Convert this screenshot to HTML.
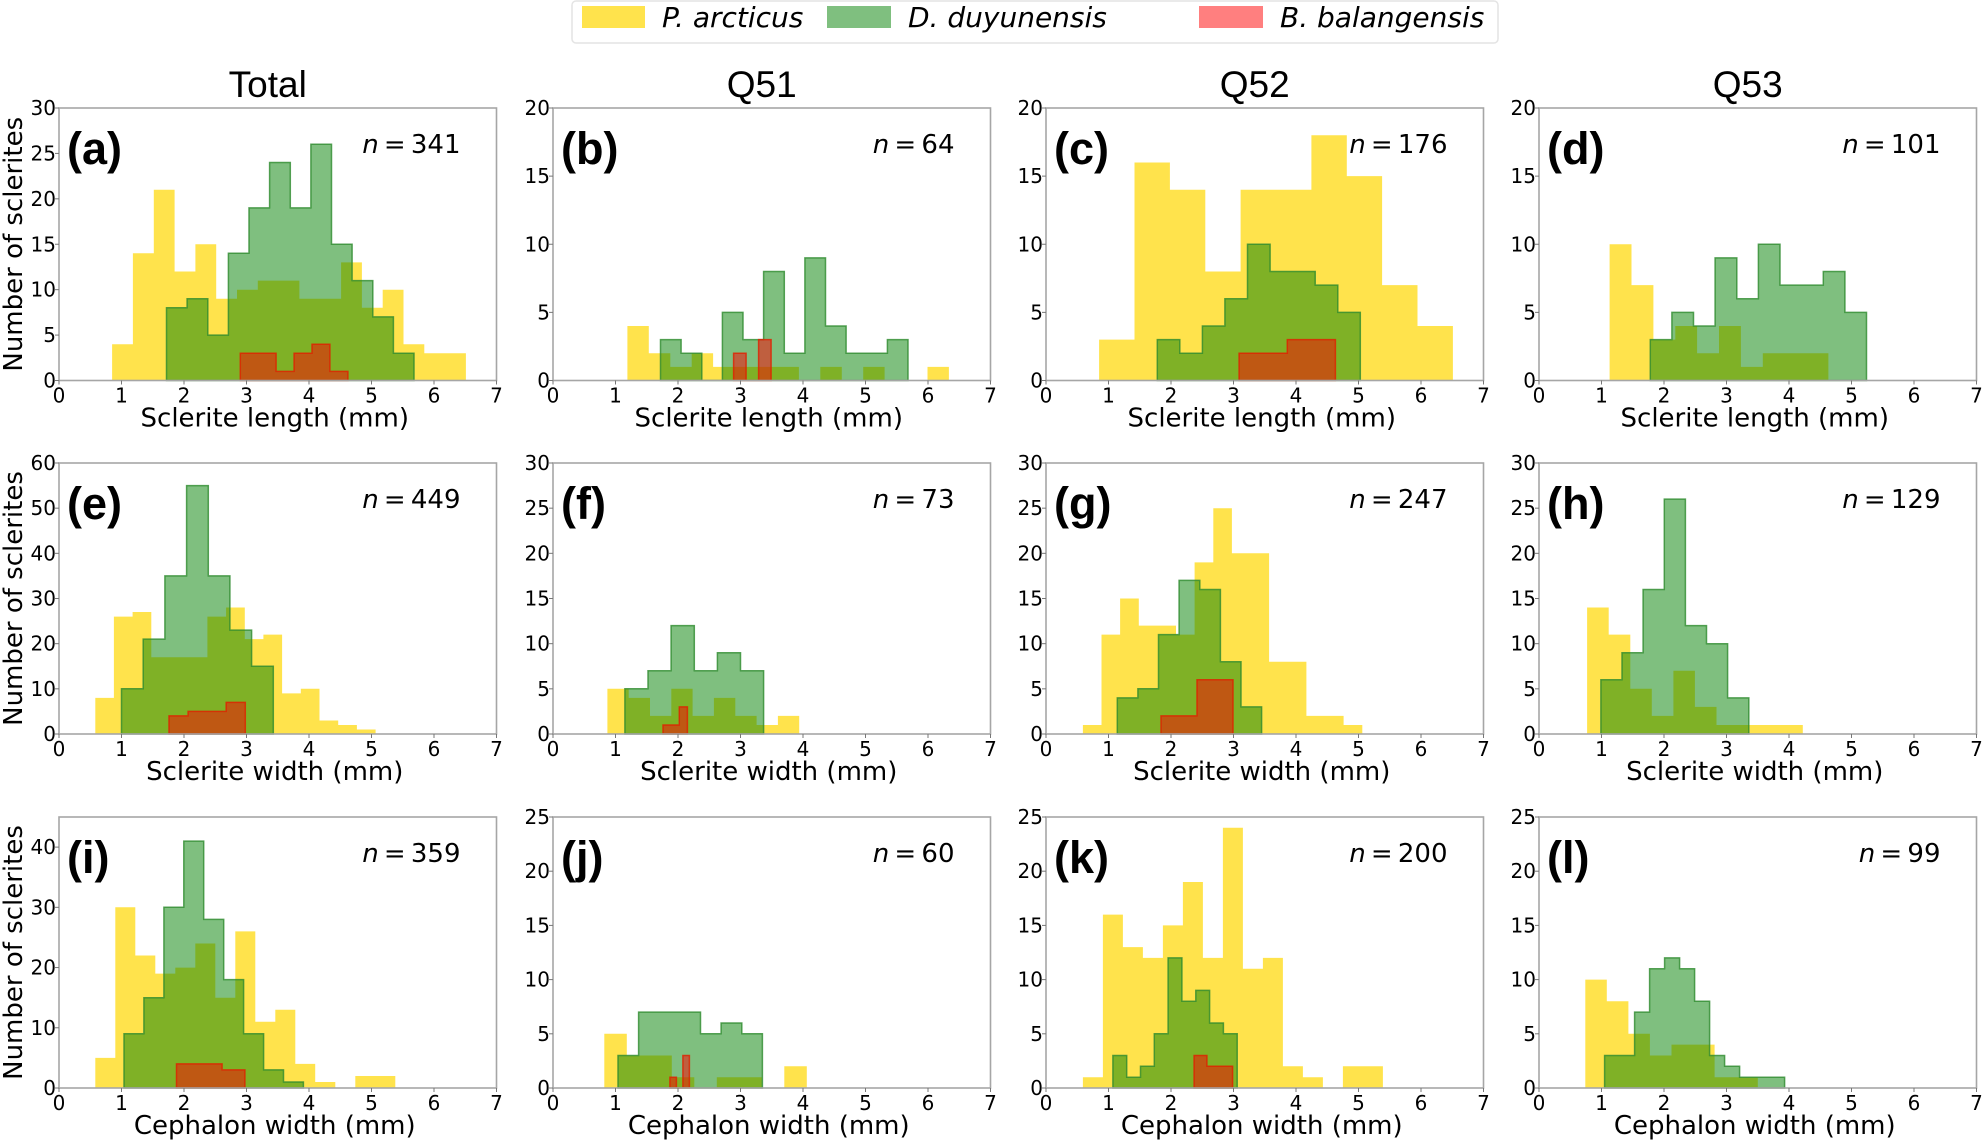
<!DOCTYPE html>
<html><head><meta charset="utf-8"><style>
html,body{margin:0;padding:0;background:#fff;}
svg{display:block;}
text{font-family:"DejaVu Sans","Liberation Sans",sans-serif;}
.t{font-family:"Liberation Sans Narrow","Liberation Sans",sans-serif;}
</style></head><body>
<svg id="s" width="1984" height="1145" viewBox="0 0 1984 1145" xmlns="http://www.w3.org/2000/svg">
<rect x="572" y="1" width="926" height="42" rx="4" fill="#fff" stroke="#e4e4e4" stroke-width="1.5"/>
<rect x="582" y="6" width="63" height="22" fill="#ffd700" fill-opacity="0.7"/>
<text x="662" y="27" font-size="28" font-style="italic">P. arcticus</text>
<rect x="827" y="6" width="64" height="22" fill="#008000" fill-opacity="0.5"/>
<text x="908" y="27" font-size="28" font-style="italic">D. duyunensis</text>
<rect x="1199" y="6" width="64" height="22" fill="#ff0000" fill-opacity="0.5"/>
<text x="1280" y="27" font-size="28" font-style="italic">B. balangensis</text>
<g id="g"></g>
</svg>
<script>
var NS="http://www.w3.org/2000/svg",G=document.getElementById("g");
function el(t,a,txt){var e=document.createElementNS(NS,t);for(var k in a)e.setAttribute(k,a[k]);if(txt!=null)e.textContent=txt;G.appendChild(e);return e;}
var L=[59,553,1046,1539],W=437.5,T=[108,463,817],H=[272.5,271,271];
var titles=["Total","Q51","Q52","Q53"];
var xl=["Sclerite length (mm)","Sclerite width (mm)","Cephalon width (mm)"];
var P=[
 {l:"(a)",n:"341",ym:30,ys:5,s:[[0.85,0.333,[4,14,21,12,15,9,10,11,11,9,9,13,8,10,4,3,3]],[1.72,0.33,[8,9,5,14,19,24,19,26,15,11,7,3]],[2.9,0.287,[3,3,1,3,4,1]]]},
 {l:"(b)",n:"64",ym:20,ys:5,s:[[1.19,0.343,[4,2,1,2,1,1,1,1,0,1,0,1,0,0,1]],[1.72,0.33,[3,2,0,5,3,8,2,9,4,2,2,3]],[2.89,0.2,[2,0,3]]]},
 {l:"(c)",n:"176",ym:20,ys:5,s:[[0.85,0.566,[3,16,14,8,14,14,18,15,7,4]],[1.78,0.361,[3,2,4,6,10,8,8,7,5]],[3.09,0.385,[2,2,3,3]]]},
 {l:"(d)",n:"101",ym:20,ys:5,s:[[1.13,0.35,[10,7,3,4,2,4,1,2,2,2]],[1.78,0.346,[3,5,4,9,6,10,7,7,8,5]],null]},
 {l:"(e)",n:"449",ym:60,ys:10,s:[[0.58,0.299,[8,26,27,17,17,17,26,28,21,22,9,10,3,2,1]],[1.0,0.347,[10,21,35,55,35,23,15]],[1.76,0.305,[4,5,5,7]]]},
 {l:"(f)",n:"73",ym:30,ys:5,s:[[0.87,0.341,[5,4,2,5,2,4,2,1,2]],[1.15,0.37,[5,7,12,7,9,7]],[1.76,0.13,[1,1,3]]]},
 {l:"(g)",n:"247",ym:30,ys:5,s:[[0.59,0.298,[1,11,15,12,12,11,19,25,20,20,8,8,2,2,1]],[1.14,0.33,[4,5,11,17,16,8,3]],[1.84,0.288,[2,2,6,6]]]},
 {l:"(h)",n:"129",ym:30,ys:5,s:[[0.77,0.345,[14,11,5,2,7,3,1,1,1,1]],[0.99,0.338,[6,9,16,26,12,10,4]],null]},
 {l:"(i)",n:"359",ym:45,ys:10,s:[[0.58,0.32,[5,30,22,19,20,24,15,26,11,13,4,1,0,2,2]],[1.04,0.319,[9,15,30,41,28,18,9,3,1]],[1.88,0.365,[4,4,3]]]},
 {l:"(j)",n:"60",ym:25,ys:5,s:[[0.82,0.36,[5,3,3,1,0,1,1,0,2]],[1.04,0.33,[3,7,7,7,5,6,5]],[1.87,0.104,[1,0,3]]]},
 {l:"(k)",n:"200",ym:25,ys:5,s:[[0.59,0.32,[1,16,13,12,15,19,12,24,11,12,2,1,0,2,2]],[1.07,0.221,[3,1,2,5,12,8,9,6,5]],[2.37,0.205,[3,2,2]]]},
 {l:"(l)",n:"99",ym:25,ys:5,s:[[0.74,0.345,[10,8,5,3,4,4,1,1]],[1.05,0.24,[3,3,7,11,12,11,8,3,2,1,1,1]],null]}
];
var sty=[{f:"#ffd700",o:0.7,st:"none"},{f:"#008000",o:0.5,st:"#2e8b2e"},{f:"#ff0000",o:0.5,st:"#e02000"}];
for(var r=0;r<3;r++)for(var c=0;c<4;c++){
 var p=P[r*4+c],x0=L[c],y0=T[r],h=H[r],yb=y0+h;
 var X=function(v){return x0+v*W/7;},Y=function(v){return yb-v*h/p.ym;};
 for(var k=0;k<3;k++){var s=p.s[k];if(!s)continue;
  var d="M"+X(s[0]).toFixed(1)+" "+yb;
  for(var i=0;i<s[2].length;i++){d+=" L"+X(s[0]+i*s[1]).toFixed(1)+" "+Y(s[2][i]).toFixed(1)+" L"+X(s[0]+(i+1)*s[1]).toFixed(1)+" "+Y(s[2][i]).toFixed(1);}
  d+=" L"+X(s[0]+s[2].length*s[1]).toFixed(1)+" "+yb+" Z";
  el("path",{d:d,fill:sty[k].f,"fill-opacity":sty[k].o,stroke:sty[k].st,"stroke-opacity":0.8,"stroke-width":1.5});
 }
 el("rect",{x:x0,y:y0,width:W,height:h,fill:"none",stroke:"#a6a6a6","stroke-width":1.6});
 for(var v=0;v<=7;v++){el("line",{x1:X(v),x2:X(v),y1:yb,y2:yb+4,stroke:"#777"});
  el("text",{x:X(v),y:yb+22,"font-size":20,"text-anchor":"middle"},String(v));}
 for(var v=0;v<=p.ym;v+=p.ys){if(r==2&&c==0&&v>40)break;el("line",{x1:x0-4,x2:x0,y1:Y(v),y2:Y(v),stroke:"#777"});
  el("text",{x:x0-3,y:Y(v)+7,"font-size":20,"text-anchor":"end"},String(v));}
 el("text",{x:x0+8,y:y0+56,"font-size":45,"font-weight":"bold","class":"t"},p.l);
 var nt=el("text",{x:x0+W-36,y:y0+45,"font-size":26,"text-anchor":"end"});
 var ts=document.createElementNS(NS,"tspan");ts.setAttribute("font-style","italic");ts.textContent="n";nt.appendChild(ts);
 nt.appendChild(document.createTextNode("\u2009=\u2009"+p.n));
 el("text",{x:x0+W/2-3,y:yb+46,"font-size":26,"text-anchor":"middle"},xl[r]);
 if(r==0)el("text",{x:x0+W/2-10,y:97,"font-size":37,"text-anchor":"middle","class":"t"},titles[c]);
 if(c==0)el("text",{x:0,y:0,"font-size":26,"text-anchor":"middle",transform:"translate(22,"+(y0+h/2)+") rotate(-90)"},"Number of sclerites");
}
</script>
</body></html>
